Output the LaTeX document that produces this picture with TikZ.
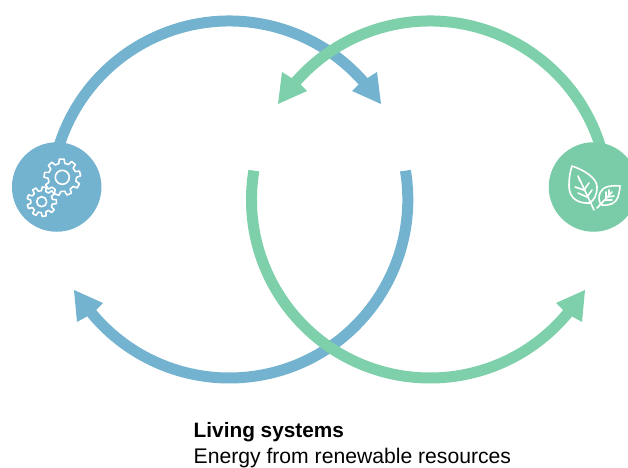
\documentclass[tikz,border=0pt]{standalone}
\usepackage{fontspec}
\setmainfont{Liberation Sans}
\definecolor{loopblue}{HTML}{74B3CF}
\definecolor{loopgreen}{HTML}{7ED0AB}
\definecolor{hubgreen}{HTML}{7ACCA8}
\newcommand{\gearpath}[6]{% cx cy N Rout Rroot rot
  \pgfmathsetmacro{\gp}{360/#3}
  \draw[iconline] ({#1+#5*cos(#6-0.30*\gp)},{#2+#5*sin(#6-0.30*\gp)})
  \foreach \k in {1,...,#3}{
    \pgfextra{\pgfmathsetmacro{\ga}{#6+(\k-1)*\gp}}
    -- ({#1+#4*cos(\ga-0.19*\gp)},{#2+#4*sin(\ga-0.19*\gp)})
    -- ({#1+#4*cos(\ga+0.19*\gp)},{#2+#4*sin(\ga+0.19*\gp)})
    -- ({#1+#5*cos(\ga+0.30*\gp)},{#2+#5*sin(\ga+0.30*\gp)})
    -- ({#1+#5*cos(\ga+0.70*\gp)},{#2+#5*sin(\ga+0.70*\gp)})
  } -- cycle;
}
\tikzset{
  loopline/.style={line width=11pt},
  iconline/.style={draw=white,line width=1.6pt,line join=round,line cap=round,fill=none},
  hub/.style={circle,minimum size=89.5pt,inner sep=0pt,draw=none},
  label/.style={anchor=base west,inner sep=0pt,text=black,font=\fontsize{21.15pt}{24pt}\selectfont}
}
\begin{document}
\begin{tikzpicture}[x=1pt,y=1pt]
\clip (0,0) rectangle (628,467);
\coordinate (bc) at (229.3,267.5);
\coordinate (gc) at (430,267.5);
% blue top
\draw[loopblue,loopline] (bc) ++(165:178.5) arc[start angle=165,end angle=38,radius=178.5];
\fill[loopblue] (381,363) -- (377,395) -- (367.5,389) -- (360,384) -- (352,376) -- cycle;
% blue bottom
\draw[loopblue,loopline] (bc) ++(9.3:178.5) arc[start angle=9.3,end angle=-144,radius=178.5];
\fill[loopblue] (74,177) -- (103,164) -- (95,156) -- (86,150) -- (77,145) -- cycle;
% green top
\draw[loopgreen,loopline] (gc) ++(15:178.5) arc[start angle=15,end angle=142,radius=178.5];
\fill[loopgreen] (278,363) -- (282,395) -- (291.5,389) -- (299,384) -- (307,376) -- cycle;
% green bottom
\draw[loopgreen,loopline] (gc) ++(170.7:178.5) arc[start angle=170.7,end angle=324,radius=178.5];
\fill[loopgreen] (585,177) -- (556,164) -- (564,156) -- (573,150) -- (582,145) -- cycle;
% hubs
\node[hub,fill=loopblue] (bluehub) at (56.7,280) {};
\node[hub,fill=hubgreen] (greenhub) at (593.5,280) {};
% gears
\gearpath{62.3}{289.7}{9}{18.3}{14.2}{12}
\draw[iconline] (62.3,289.7) circle[radius=7];
\gearpath{41.7}{265.3}{9}{14.8}{11}{0}
\draw[iconline] (41.7,265.3) circle[radius=5];
% leaves
\begin{scope}[yshift=467pt,yscale=-1]
\draw[iconline] (572,166) .. controls (584,170) and (597,178) .. (597,187) .. controls (597,195) and (594,200) .. (590,203) .. controls (578,204) and (569,198) .. (569,186) .. controls (569,178) and (570,172) .. (572,166) -- cycle;
\draw[iconline] (579,178) -- (594,210);
\draw[iconline] (580,181) -- (578,176);
\draw[iconline] (584,190) -- (589,183);
\draw[iconline] (587,197) -- (592,190);
\draw[iconline] (587,197) -- (578,193);
\draw[iconline] (584,190) -- (575,187);
\draw[iconline] (620,186) .. controls (610,185) and (602,187) .. (600,193) .. controls (598,198) and (599,203) .. (602,205) .. controls (610,206) and (616,203) .. (618,197) .. controls (619,193) and (620,189) .. (620,186) -- cycle;
\draw[iconline] (597,208) -- (612,192);
\draw[iconline] (606,198) -- (606,192);
\draw[iconline] (609,195) -- (609,190);
\draw[iconline] (605,200) -- (612,200);
\draw[iconline] (608,197) -- (614,196);
\end{scope}
% text
\node[label,font=\bfseries\fontsize{20.8pt}{24pt}\selectfont] (title) at (193.5,30) {Living systems};
\node[label] (sub) at (193.5,4) {Energy from renewable resources};
\end{tikzpicture}
\end{document}
